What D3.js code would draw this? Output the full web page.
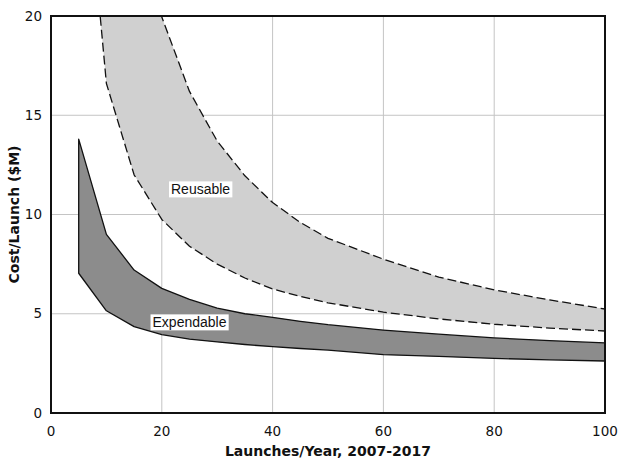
<!DOCTYPE html>
<html><head><meta charset="utf-8">
<script src="https://cdn.jsdelivr.net/npm/d3@7"></script>
<style>
body{margin:0;background:#fff;}
svg{display:block;}
</style></head>
<body><svg id="c" width="619" height="462"></svg>
<script>
const launches = [5,10,15,20,25,30,35,40,45,50,60,70,80,90,100];
const expendableHigh = [13.8,9.0,7.2,6.28,5.72,5.28,5.0,4.82,4.62,4.45,4.18,3.97,3.78,3.65,3.53];
const expendableLow  = [7.04,5.15,4.35,3.95,3.72,3.58,3.45,3.34,3.25,3.17,2.94,2.85,2.75,2.68,2.62];
const reusableHigh   = [40,30,25,19.95,16.2,13.7,11.95,10.6,9.6,8.8,7.75,6.85,6.2,5.7,5.24];
const reusableLow    = [31.7,16.6,12.0,9.75,8.4,7.5,6.8,6.25,5.87,5.55,5.08,4.74,4.47,4.28,4.13];
const xTicks = [0,20,40,60,80,100];
const yTicks = [0,5,10,15,20];
const xTitle = "Launches/Year, 2007-2017";
const yTitle = "Cost/Launch ($M)";
const labels = [{text:"Reusable", x:27, y:11.2},{text:"Expendable", x:25, y:4.5}];

const m = {l:51, r:605, t:16, b:413};
const svg = d3.select("#c");
const x = d3.scaleLinear().domain([0,100]).range([m.l, m.r]);
const y = d3.scaleLinear().domain([0,20]).range([m.b, m.t]);

svg.append("defs").append("clipPath").attr("id","clip")
  .append("rect").attr("x",m.l).attr("y",m.t).attr("width",m.r-m.l).attr("height",m.b-m.t);

// grid
svg.append("g").selectAll("line").data(xTicks.slice(1,-1)).join("line")
  .attr("x1",d=>x(d)).attr("x2",d=>x(d)).attr("y1",m.t).attr("y2",m.b)
  .attr("stroke","#c4c4c4").attr("stroke-width",1);
svg.append("g").selectAll("line").data(yTicks.slice(1,-1)).join("line")
  .attr("y1",d=>y(d)).attr("y2",d=>y(d)).attr("x1",m.l).attr("x2",m.r)
  .attr("stroke","#c4c4c4").attr("stroke-width",1);

const pts = (a)=>launches.map((l,i)=>[l,a[i]]);
const areaGen = (hi,lo)=>d3.area().x((d,i)=>x(launches[i])).y0((d,i)=>y(lo[i])).y1((d,i)=>y(hi[i]))(launches);
const lineGen = d3.line().x(d=>x(d[0])).y(d=>y(d[1]));

const g = svg.append("g").attr("clip-path","url(#clip)");
// reusable band
g.append("path").attr("d",areaGen(reusableHigh,reusableLow)).attr("fill","#d0d0d0");
[reusableHigh, reusableLow].forEach(s=>{
  g.append("path").attr("d",lineGen(pts(s))).attr("fill","none").attr("stroke","#111")
    .attr("stroke-width",1.3).attr("stroke-dasharray","9,4").attr("stroke-linejoin","round");
});
// expendable band
g.append("path").attr("d",areaGen(expendableHigh,expendableLow)).attr("fill","#8c8c8c")
  .attr("stroke","#111").attr("stroke-width",1.3).attr("stroke-linejoin","round");

// labels
labels.forEach(L=>{
  const t = svg.append("text").attr("x",x(L.x)).attr("y",y(L.y))
    .attr("text-anchor","middle").attr("dominant-baseline","middle")
    .attr("font-family","Liberation Sans, Arial, sans-serif").attr("font-size",14)
    .attr("fill","#111").text(L.text);
  const bb = t.node().getBBox();
  svg.insert("rect", ()=>t.node()).attr("x",bb.x-2).attr("y",bb.y).attr("width",bb.width+4).attr("height",bb.height)
    .attr("fill","#fff");
});

// border
svg.append("rect").attr("x",m.l).attr("y",m.t).attr("width",m.r-m.l).attr("height",m.b-m.t)
  .attr("fill","none").attr("stroke","#111").attr("stroke-width",2);

// tick labels
svg.append("g").selectAll("text").data(xTicks).join("text")
  .attr("x",d=>x(d)).attr("y",436).attr("text-anchor","middle")
  .attr("font-family","DejaVu Sans, Verdana, sans-serif").attr("font-size",13.5).attr("fill","#111")
  .text(d=>d);
svg.append("g").selectAll("text").data(yTicks).join("text")
  .attr("x",42).attr("y",d=>y(d)).attr("dy","0.35em").attr("text-anchor","end")
  .attr("font-family","DejaVu Sans, Verdana, sans-serif").attr("font-size",13.5).attr("fill","#111")
  .text(d=>d);

// axis titles
svg.append("text").attr("x",(m.l+m.r)/2).attr("y",456).attr("text-anchor","middle")
  .attr("font-family","DejaVu Sans, Verdana, sans-serif").attr("font-size",14).attr("font-weight","bold")
  .attr("fill","#111").text(xTitle);
svg.append("text").attr("transform",`translate(19,${(m.t+m.b)/2}) rotate(-90)`).attr("text-anchor","middle")
  .attr("font-family","DejaVu Sans, Verdana, sans-serif").attr("font-size",14).attr("font-weight","bold")
  .attr("fill","#111").text(yTitle);
</script></body></html>
